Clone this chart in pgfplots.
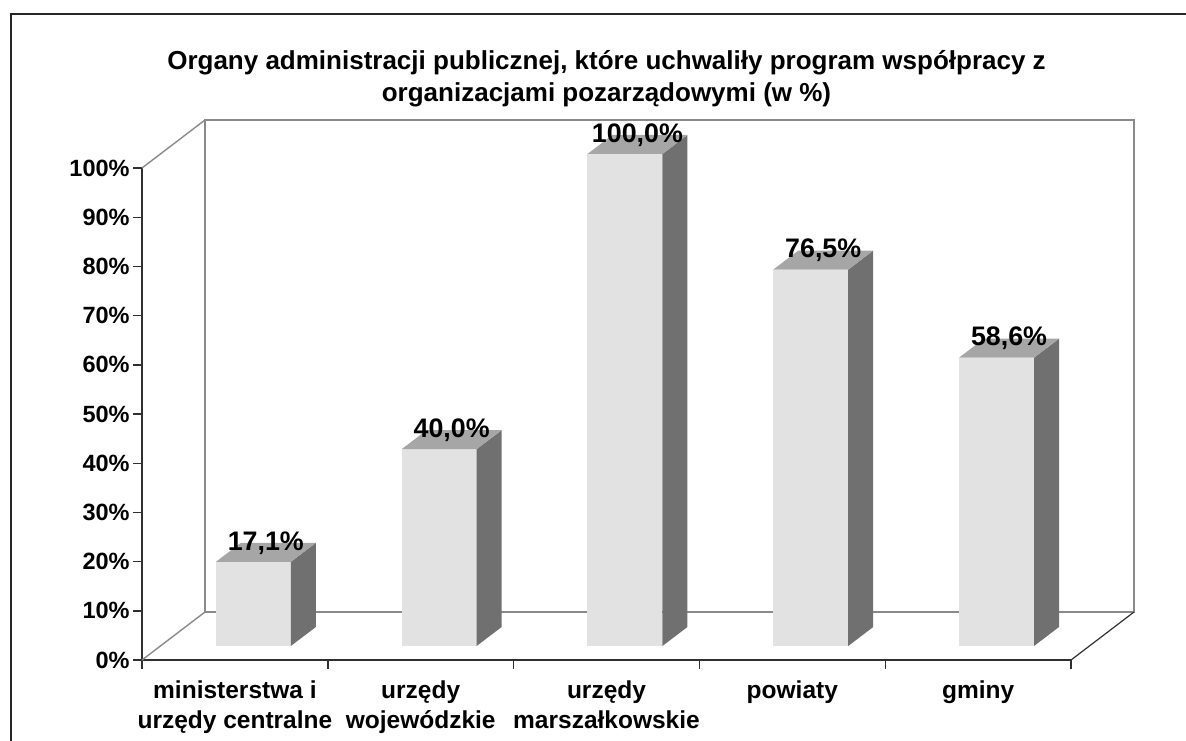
\documentclass[border=0pt]{standalone}
\usepackage{pgfplots}
\pgfplotsset{compat=1.18}
\usepackage{fontspec}
\setmainfont{Liberation Sans}
\definecolor{barfront}{HTML}{E2E2E2}
\definecolor{barside}{HTML}{707070}
\definecolor{bartop}{HTML}{A6A6A6}
\definecolor{wallgrey}{HTML}{8A8A8A}
\definecolor{axisdark}{HTML}{303030}
\newcommand\lblfont{\bfseries\fontsize{11.75}{15}\selectfont}
\newcommand\barlblfont{\bfseries\fontsize{13.4}{15}\selectfont}
\newcommand\xlblfont{\bfseries\fontsize{12.25}{15}\selectfont}
\newcommand\titlefont{\bfseries\fontsize{13}{16}\selectfont}
% 3D bar drawn at each data point (origin = data point, height from \rawv)
\pgfdeclareplotmark{bar3d}{%
  \pgfmathsetmacro\barB{7-\rawv*2.46}%
  \pgfmathsetmacro\barBb{\barB+9.5}%
  \pgfsetfillcolor{barfront}%
  \pgfpathrectanglecorners{\pgfpoint{-9.55pt}{\barB pt}}{\pgfpoint{27.95pt}{7pt}}%
  \pgfusepathqfill
  \pgfsetfillcolor{barside}%
  \pgfpathmoveto{\pgfpoint{27.95pt}{\barB pt}}%
  \pgfpathlineto{\pgfpoint{40.45pt}{\barBb pt}}%
  \pgfpathlineto{\pgfpoint{40.45pt}{16.5pt}}%
  \pgfpathlineto{\pgfpoint{27.95pt}{7pt}}%
  \pgfpathclose
  \pgfusepathqfill
  \pgfsetfillcolor{bartop}%
  \pgfpathmoveto{\pgfpoint{-9.55pt}{7pt}}%
  \pgfpathlineto{\pgfpoint{27.95pt}{7pt}}%
  \pgfpathlineto{\pgfpoint{40.45pt}{16.5pt}}%
  \pgfpathlineto{\pgfpoint{2.95pt}{16.5pt}}%
  \pgfpathclose
  \pgfusepathqfill
}
\begin{document}
\begin{tikzpicture}
\begin{axis}[
  x=92.9pt, y=2.46pt,
  xmin=0, xmax=5, ymin=0, ymax=100,
  clip=false,
  axis x line*=bottom, axis y line*=left,
  axis line style={axisdark, line width=1pt},
  tick align=outside,
  major tick length=4.5pt,
  tick style={axisdark, line width=0.7pt},
  xtick={0,1,2,3,4,5},
  x tick label as interval,
  xticklabels={{\strut ministerstwa i\\\strut urzędy centralne},{\strut urzędy\\\strut wojewódzkie},{\strut urzędy\\\strut marszałkowskie},{\strut powiaty},{\strut gminy}},
  x tick label style={align=center, font=\xlblfont, anchor=north, inner sep=0pt, yshift=-4pt},
  ytick={0,10,...,100},
  yticklabel={\pgfmathprintnumber{\tick}\%},
  y tick label style={font=\lblfont, inner sep=1.5pt},
  /pgf/number format/assume math mode=true,
  title={Organy administracji publicznej, które uchwaliły program współpracy z\\organizacjami pozarządowymi (w \%)},
  title style={align=center, font=\titlefont, at={(0.5,1)}, anchor=base, yshift=27pt},
]
% back wall and floor (3D frame)
\draw[wallgrey, line width=1.1pt] (axis cs:0.339,9.756) -- (axis cs:0.339,109.756) -- (axis cs:5.339,109.756) -- (axis cs:5.339,9.756) -- cycle;
\draw[wallgrey, line width=0.7pt] (axis cs:0,100) -- (axis cs:0.339,109.756);
\draw[wallgrey, line width=0.7pt] (axis cs:0,0) -- (axis cs:0.339,9.756);
\draw[axisdark, line width=0.6pt] (axis cs:5,0) -- (axis cs:5.339,9.756);
\coordinate (O) at (axis cs:0,0);

\addplot[
  only marks, mark=bar3d,
  visualization depends on={rawy \as \rawv},
  point meta=y,
  nodes near coords={\pgfmathprintnumber[fixed,fixed zerofill,precision=1,use comma]{\pgfplotspointmeta}\%},
  every node near coord/.append style={font=\barlblfont, text=black, anchor=center, xshift=15.45pt, yshift=16.5pt},
] table {
x   y
0.5 17.1
1.5 40.0
2.5 100.0
3.5 76.5
4.5 58.6
};
\end{axis}
\draw[black!85, line width=1pt] ([shift={(-65.5pt,-60pt)}]O) -- ([shift={(-65.5pt,323pt)}]O) -- ([shift={(560pt,323pt)}]O);
\pgfresetboundingbox
\path[use as bounding box] ([shift={(-71pt,-40pt)}]O) rectangle ([shift={(522pt,330pt)}]O);
\end{tikzpicture}
\end{document}
